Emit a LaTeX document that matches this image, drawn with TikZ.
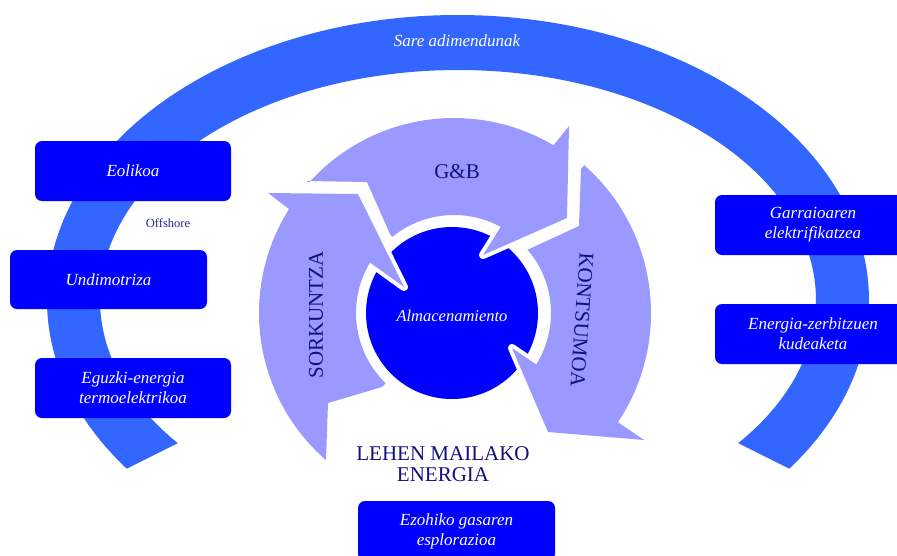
\documentclass[tikz,border=0pt]{standalone}
\usepackage{fontspec}
\setmainfont{Liberation Serif}
\usetikzlibrary{calc}
\definecolor{bandblue}{RGB}{51,102,255}
\definecolor{boxblue}{RGB}{0,0,255}
\definecolor{arrowlav}{RGB}{153,153,255}
\definecolor{navytext}{RGB}{16,16,128}
\definecolor{offcol}{RGB}{40,40,150}
\newcommand\pathSork{(268,193) -- (358,194) -- (404,287) -- (372,264) -- ($(O)+(-149.1:98)$) arc[start angle=-149.1, end angle=-225.8, radius=98] -- (382,387) -- (328,403) -- (326,460) -- ($(O)+(-228.9:195)$) arc[start angle=-228.9, end angle=-147.8, radius=195] -- (289,209) -- cycle}
\newcommand\pathGB{(307,181) -- (367,182) -- (390,234) -- ($(O)+(-129:98)$) arc[start angle=-129, end angle=-61.6, radius=98] -- (500,228) -- (483,255) -- (567,218) -- (569,126) -- (553,146) -- ($(O)+(-59.3:195)$) arc[start angle=-59.3, end angle=-138.1, radius=195] -- cycle}
\newcommand\pathKont{(581,169) -- (579,226) -- (527,250) -- ($(O)+(-40.8:97)$) arc[start angle=-40.8, end angle=32.1, radius=97] -- (537,365) -- (512,348) -- (548,432) -- (644,440) -- (619,423) -- ($(O)+(33.7:197)$) arc[start angle=33.7, end angle=-48.6, radius=197] -- cycle}
\begin{document}
\begin{tikzpicture}[x=1pt,y=-1pt,
  box/.style={fill=boxblue, rounded corners=7pt, inner sep=0pt, text=white,
    font=\fontsize{17}{20}\selectfont\itshape, align=center},
  cyclelabel/.style={text=navytext, font=\fontsize{21}{21}\selectfont},
  whiteedge/.style={fill=white, draw=white, line width=8pt, line join=round},
]
\useasboundingbox (0,0) rectangle (897,555);
\fill[white] (0,0) rectangle (897,555);
% outer band
\coordinate (E) at (458,300);
\fill[bandblue] ($(E)+(143.7:411 and 285)$) arc[start angle=143.7, end angle=396.3, x radius=411, y radius=285]
  -- ($(E)+(38.5:358 and 230)$) arc[start angle=38.5, end angle=-218.5, x radius=358, y radius=230] -- cycle;
\node[text=white, font=\fontsize{17}{20}\selectfont\itshape] (sare) at (457,41) {Sare adimendunak};
% boxes
\node[box, minimum width=196pt, minimum height=60pt] (eolikoa) at (133,171) {Eolikoa};
\node[box, minimum width=197pt, minimum height=59pt] (undi) at (108.5,279.5) {Undimotriza};
\node[box, minimum width=196pt, minimum height=60pt] (eguzki) at (133,388) {Eguzki-energia\\termoelektrikoa};
\node[box, minimum width=196pt, minimum height=60pt] (garraio) at (813,225) {Garraioaren\\elektrifikatzea};
\node[box, minimum width=196pt, minimum height=60pt] (zerbitzu) at (813,334) {Energia-zerbitzuen\\kudeaketa};
\node[box, minimum width=197pt, minimum height=60pt] (ezohiko) at (456.5,531) {Ezohiko gasaren\\esplorazioa};
\node[text=offcol, font=\fontsize{12.5}{14}\selectfont] (offshore) at (168,223) {Offshore};
% central circle
\coordinate (O) at (454,313);
\node[circle, fill=boxblue, minimum size=172pt, inner sep=0pt] (storage) at (452,313) {};
% cycle arrows
\path[whiteedge] \pathSork;
\path[whiteedge] \pathGB;
\path[whiteedge] \pathKont;
\fill[arrowlav] \pathSork;
\fill[arrowlav] \pathGB;
\fill[arrowlav] \pathKont;
\node[text=white, font=\fontsize{16.5}{18}\selectfont\itshape] (almac) at (452,316) {Almacenamiento};
\node[cyclelabel] (gb) at (457,172) {G\&B};
\node[cyclelabel, rotate=90] (sork) at (316,315) {SORKUNTZA};
\node[cyclelabel, rotate=-94] (kont) at (582,320) {KONTSUMOA};
\node[cyclelabel, align=center, font=\fontsize{21}{21}\selectfont] (lehen) at (443,464) {LEHEN MAILAKO\\ENERGIA};
\end{tikzpicture}
\end{document}
